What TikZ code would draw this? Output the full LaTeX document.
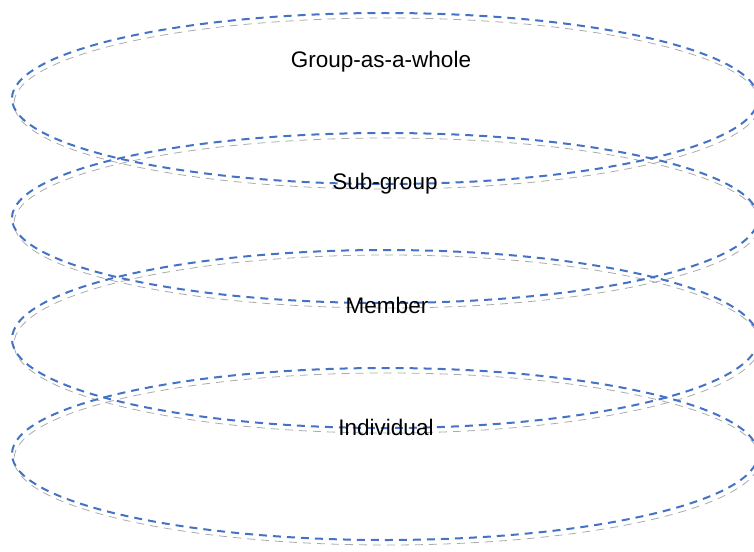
\documentclass[tikz,border=0pt]{standalone}
\usepackage{fontspec}
\setmainfont{Liberation Sans}
\usetikzlibrary{shapes.geometric}
\definecolor{ringblue}{RGB}{68,114,196}
\definecolor{ringshade}{RGB}{170,170,170}
\tikzset{
  ringshape/.style={ellipse, minimum width=746pt, inner sep=0pt},
  ring/.style={ringshape, draw=ringblue, line width=2pt, dash pattern=on 8pt off 6pt},
  ringshadow/.style={ringshape, draw=ringshade, line width=0.8pt, dash pattern=on 8pt off 6pt},
  levellabel/.style={anchor=base, inner sep=0pt, font=\fontsize{22.5}{26}\selectfont}
}
\begin{document}
\begin{tikzpicture}[x=1pt, y=-1pt]
  \useasboundingbox (0,0) rectangle (754,551);
  \clip (0,0) rectangle (754,551);
  % soft grey echoes under each ring
  \foreach \cy/\h/\n in {98.5/171/s1, 218/170/s2, 339/178/s3, 454/172/s4}
    \node[ringshadow, minimum height=\h pt] (\n) at (387,\cy+5) {};
  % the four nested levels
  \node[ring, minimum height=171pt] (e1) at (385,98.5) {};
  \node[ring, minimum height=170pt] (e2) at (385,218) {};
  \node[ring, minimum height=178pt] (e3) at (385,339) {};
  \node[ring, minimum height=172pt] (e4) at (385,454) {};
  % level names
  \node[levellabel] (l1) at (381,67) {Group-as-a-whole};
  \node[levellabel] (l2) at (385,189) {Sub-group};
  \node[levellabel] (l3) at (387,313) {Member};
  \node[levellabel] (l4) at (386,435) {Individual};
\end{tikzpicture}
\end{document}
